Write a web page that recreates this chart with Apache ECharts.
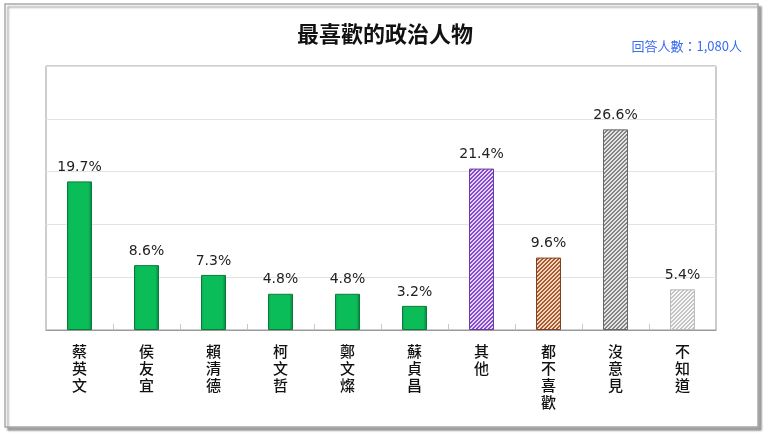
<!DOCTYPE html>
<html><head><meta charset="utf-8">
<script src="https://cdn.jsdelivr.net/npm/echarts@6/dist/echarts.min.js"></script>
<style>html,body{margin:0;padding:0;background:#fff;}#c{width:770px;height:437px;}</style>
</head><body><div id="c"></div>
<script>
const categories = ['蔡英文','侯友宜','賴清德','柯文哲','鄭文燦','蘇貞昌','其他','都不喜歡','沒意見','不知道'];
const values = [19.7, 8.6, 7.3, 4.8, 4.8, 3.2, 21.4, 9.6, 26.6, 5.4];
const yTicks = [0, 7, 14, 21, 28, 35];
const titleText = '最喜歡的政治人物';
const subText = '回答人數：1,080人';

function hatch(fg, bg) {
  const c = document.createElement('canvas');
  c.width = 4; c.height = 4;
  const g = c.getContext('2d');
  g.fillStyle = bg; g.fillRect(0, 0, 4, 4);
  g.fillStyle = fg;
  for (let y = 0; y < 4; y++) for (let x = 0; x < 4; x++) {
    const d = ((x + y) % 4 + 4) % 4;
    if (d === 0 || d === 1) g.fillRect(x, y, 1, 1);
  }
  return { image: c, repeat: 'repeat' };
}
const green = {
  type: 'linear', x: 0, y: 0, x2: 1, y2: 0,
  colorStops: [{offset: 0, color: '#07a84e'}, {offset: 0.12, color: '#0bbd58'},
               {offset: 0.85, color: '#0bbd58'}, {offset: 1, color: '#06823c'}]
};
const styles = [
  {color: green, borderColor: '#0a7a3c'},
  {color: green, borderColor: '#0a7a3c'},
  {color: green, borderColor: '#0a7a3c'},
  {color: green, borderColor: '#0a7a3c'},
  {color: green, borderColor: '#0a7a3c'},
  {color: green, borderColor: '#0a7a3c'},
  {color: hatch('#8549cf', '#e4d4f6'), borderColor: '#6a3aa8'},
  {color: hatch('#a9592a', '#f2d8c4'), borderColor: '#7d4220'},
  {color: hatch('#858585', '#e6e6e6'), borderColor: '#666'},
  {color: hatch('#c4c4c4', '#f7f7f7'), borderColor: '#bbb'}
];

const chart = echarts.init(document.getElementById('c'), null, {renderer: 'canvas'});
chart.setOption({
  animation: false,
  backgroundColor: '#fff',
  graphic: [
    {type: 'rect', shape: {x: 5, y: 4, width: 753, height: 423}, z: -10,
     style: {fill: '#fff', stroke: '#a8a8a8', lineWidth: 1.5,
             shadowColor: 'rgba(0,0,0,0.35)', shadowOffsetX: 3, shadowOffsetY: 3, shadowBlur: 2}},
    {type: 'text', left: 'center', top: 23, z: 10,
     style: {text: titleText, fontSize: 22, fontWeight: 'bold', fill: '#111',
             fontFamily: '"Noto Sans CJK TC", sans-serif'}},
    {type: 'text', right: 28, top: 40, z: 10,
     style: {text: subText, fontSize: 13, fill: '#3a6cf0',
             fontFamily: '"Noto Sans CJK TC", sans-serif'}}
  ],
  grid: {left: 46, right: 54, top: 66, bottom: 107, show: true, borderColor: '#9a9a9a', borderWidth: 1, backgroundColor: 'transparent'},
  xAxis: {
    type: 'category', data: categories,
    axisLine: {show: true, lineStyle: {color: '#9a9a9a'}},
    axisTick: {show: true, inside: true, length: 6, lineStyle: {color: '#c8c8c8'}},
    axisLabel: {
      margin: 13, fontSize: 15, fontWeight: 500, color: '#111', lineHeight: 17, verticalAlign: 'top',
      fontFamily: '"Noto Sans CJK TC", sans-serif',
      formatter: v => v.split('').join('\n')
    }
  },
  yAxis: {
    type: 'value', min: yTicks[0], max: yTicks[yTicks.length - 1], interval: yTicks[1] - yTicks[0],
    axisLabel: {show: false}, axisLine: {show: false}, axisTick: {show: false},
    splitLine: {show: true, lineStyle: {color: '#e2e2e2', width: 1}}
  },
  series: [{
    type: 'bar', barWidth: 25,
    data: values.map((v, i) => ({value: v, itemStyle: Object.assign({borderWidth: 1}, styles[i])})),
    label: {show: true, position: 'top', distance: 7, fontSize: 14, color: '#222',
            fontFamily: '"DejaVu Sans", sans-serif', formatter: p => p.value.toFixed(1) + '%'}
  }]
});
</script></body></html>
